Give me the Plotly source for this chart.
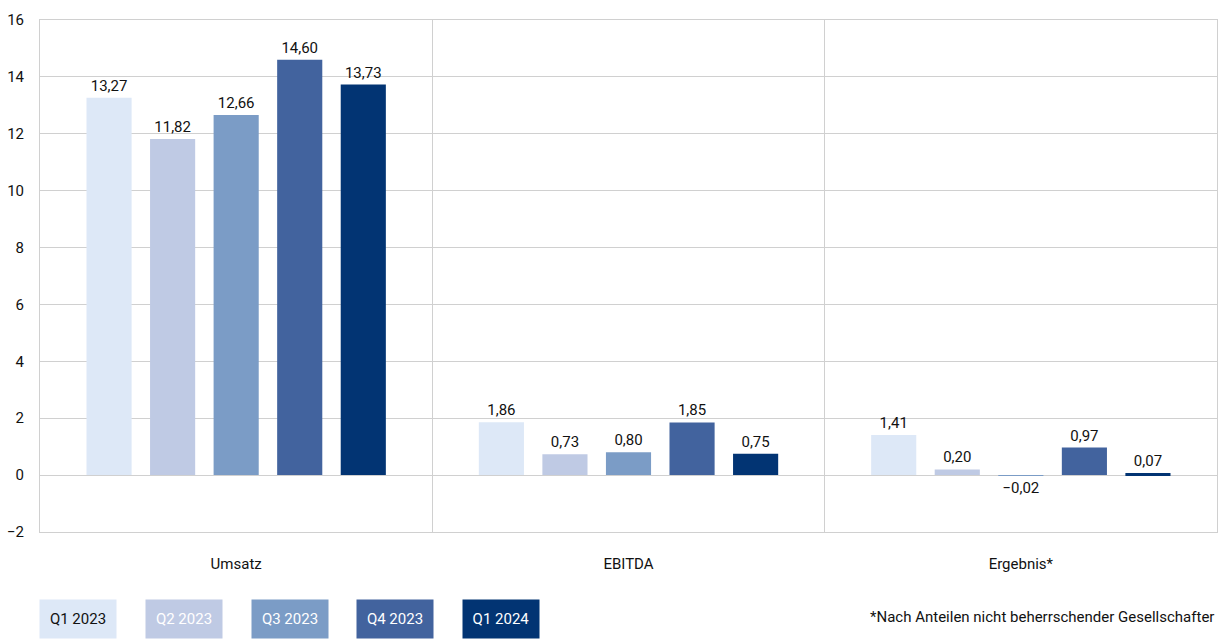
import plotly.graph_objects as go

categories = ["Umsatz", "EBITDA", "Ergebnis*"]
series_names = ["Q1 2023", "Q2 2023", "Q3 2023", "Q4 2023", "Q1 2024"]
q1_2023 = [13.27, 1.86, 1.41]
q2_2023 = [11.82, 0.73, 0.20]
q3_2023 = [12.66, 0.80, -0.02]
q4_2023 = [14.60, 1.85, 0.97]
q1_2024 = [13.73, 0.75, 0.07]
series_values = [q1_2023, q2_2023, q3_2023, q4_2023, q1_2024]
colors = ["#dde8f7", "#bfcae4", "#7b9cc6", "#42639e", "#023473"]
legend_text_colors = ["#111111", "#ffffff", "#ffffff", "#ffffff", "#ffffff"]
y_ticks = [-2, 0, 2, 4, 6, 8, 10, 12, 14, 16]
footnote = "*Nach Anteilen nicht beherrschender Gesellschafter"

FONT = "Roboto, Liberation Sans, sans-serif"
W, H = 1218, 642
ML, MR, MT, MB = 40, 1, 20, 110


def de_label(v):
    s = f"{abs(v):.2f}".replace(".", ",")
    return ("\u2212" + s) if v < 0 else s


fig = go.Figure()
for name, vals, col in zip(series_names, series_values, colors):
    fig.add_trace(go.Bar(
        x=categories, y=vals, name=name, marker_color=col, marker_line_width=0,
        text=[de_label(v) for v in vals], texttemplate="%{text}",
        textposition="outside",
        textfont=dict(family=FONT, size=15, color="#111111"),
        cliponaxis=False, showlegend=False,
    ))

pw = W - ML - MR
ph = H - MT - MB
def px_x(px):
    return (px - ML) / pw
def px_y(py):
    return (H - MB - py) / ph

box_centers = [78, 184, 290, 395.5, 501]
for name, col, tcol, cx in zip(series_names, colors, legend_text_colors, box_centers):
    fig.add_annotation(
        x=px_x(cx), y=px_y(619), xref="paper", yref="paper",
        text=name, showarrow=False, bgcolor=col, width=76, height=38,
        borderpad=0, font=dict(family=FONT, size=15, color=tcol),
        xanchor="center", yanchor="middle",
    )
fig.add_annotation(
    x=px_x(1216), y=px_y(617), xref="paper", yref="paper",
    text=footnote, showarrow=False, xanchor="right", yanchor="middle",
    font=dict(family=FONT, size=15, color="#111111"),
)

fig.update_layout(
    width=W, height=H, margin=dict(l=ML, r=MR, t=MT, b=MB),
    paper_bgcolor="white", plot_bgcolor="white",
    barmode="group", bargap=0.19, bargroupgap=0.29,
    separators=",.",
    font=dict(family=FONT, size=15, color="#111111"),
)
fig.update_xaxes(
    tickson="boundaries", showgrid=True, gridcolor="#d0d0d0", gridwidth=1,
    showline=True, linecolor="#d0d0d0", linewidth=1, mirror=True,
    ticks="", ticklabelstandoff=18, tickfont=dict(family=FONT, size=15),
)
fig.update_yaxes(
    range=[-2, 16], tickvals=y_ticks, showgrid=True, gridcolor="#d0d0d0",
    gridwidth=1, zeroline=True, zerolinecolor="#d0d0d0", zerolinewidth=1,
    showline=True, linecolor="#d0d0d0", linewidth=1, mirror=True,
    ticks="", ticklabelstandoff=12, tickfont=dict(family=FONT, size=15),
)

fig.write_html(
    "out.html",
    config={"displayModeBar": False},
    post_script="document.body.style.margin='0';document.body.style.overflow='hidden';",
)
